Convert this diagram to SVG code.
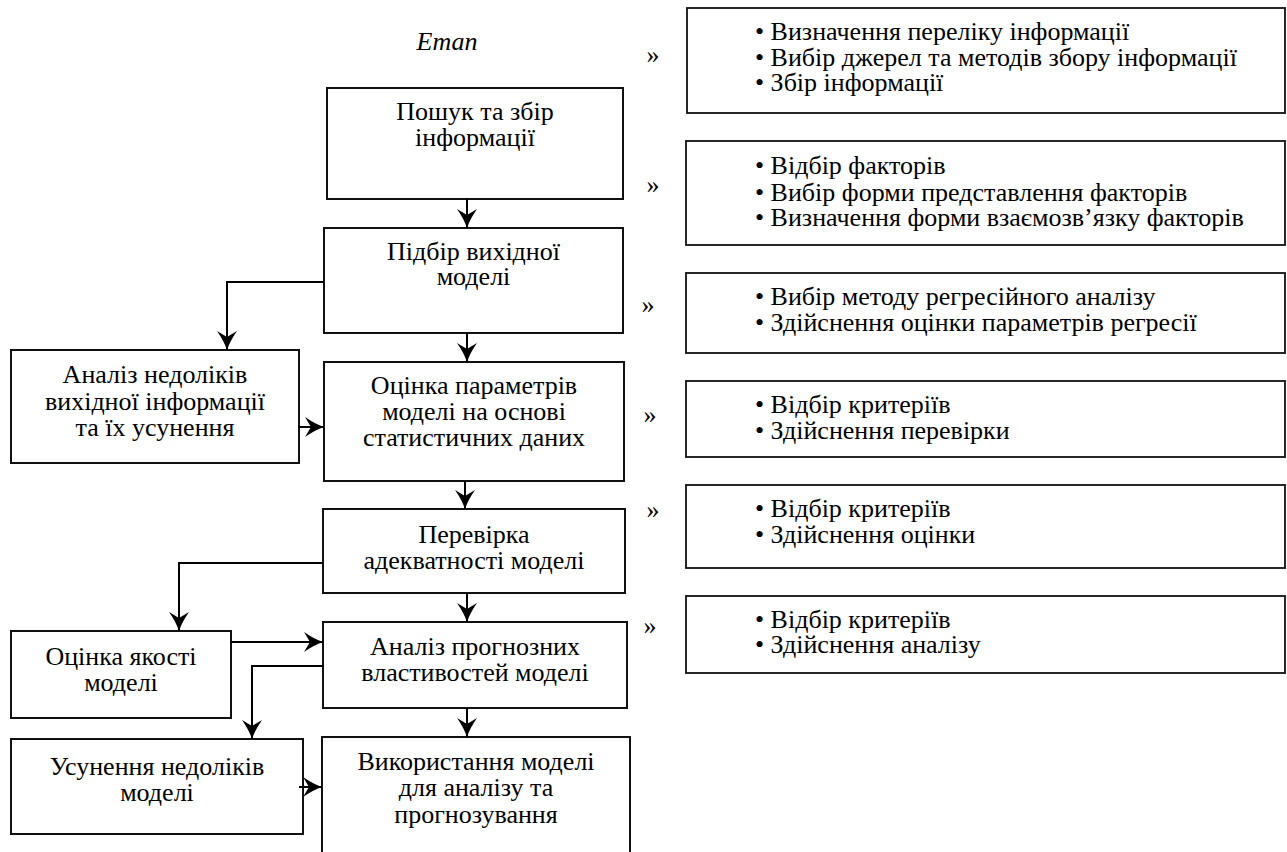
<svg xmlns="http://www.w3.org/2000/svg" width="1287" height="852" viewBox="0 0 1287 852">
<defs>
<style>
text{font-family:"Liberation Serif","DejaVu Serif",serif;font-size:26px;fill:#000}
.c{text-anchor:middle}
.box{fill:#fff;stroke:#111;stroke-width:2}
.rbox{fill:#fff;stroke:#111;stroke-width:1.8}
.con{fill:none;stroke:#000;stroke-width:2}
.it{font-style:italic}
</style>
<marker id="ah" viewBox="-20 -11 21 22" markerWidth="21" markerHeight="22" refX="0" refY="0" orient="auto" markerUnits="userSpaceOnUse">
<path d="M0,0 Q-9,-3 -19,-10 L-13,0 L-19,10 Q-9,3 0,0 Z" fill="#000"/>
</marker>
</defs>
<rect width="1287" height="852" fill="#fff"/>

<text id="title" class="c it" x="447" y="50">Етап</text>

<g id="n1"><rect class="box" x="327" y="88" width="296" height="111"/>
<text class="c" x="475" y="120">Пошук та збір</text><text class="c" x="475" y="146">інформації</text></g>
<g id="n2"><rect class="box" x="324" y="228" width="299" height="105"/>
<text class="c" x="473.5" y="260">Підбір вихідної</text><text class="c" x="473.5" y="285">моделі</text></g>
<g id="n3"><rect class="box" x="324" y="362" width="300" height="119"/>
<text class="c" x="474" y="394">Оцінка параметрів</text><text class="c" x="474" y="420">моделі на основі</text><text class="c" x="474" y="446">статистичних даних</text></g>
<g id="n4"><rect class="box" x="323" y="509" width="302" height="84"/>
<text class="c" x="474" y="543">Перевірка</text><text class="c" x="474" y="569">адекватності моделі</text></g>
<g id="n5"><rect class="box" x="323" y="622" width="304" height="86"/>
<text class="c" x="475" y="655">Аналіз прогнозних</text><text class="c" x="475" y="681">властивостей моделі</text></g>
<g id="n6"><rect class="box" x="322" y="737" width="308" height="130"/>
<text class="c" x="476" y="770">Використання моделі</text><text class="c" x="476" y="796">для аналізу та</text><text class="c" x="476" y="823">прогнозування</text></g>

<g id="l1"><rect class="box" x="11" y="350" width="288" height="113"/>
<text class="c" x="155" y="383">Аналіз недоліків</text><text class="c" x="155" y="410">вихідної інформації</text><text class="c" x="155" y="436">та їх усунення</text></g>
<g id="l2"><rect class="box" x="11" y="631" width="220" height="87"/>
<text class="c" x="121" y="665">Оцінка якості</text><text class="c" x="121" y="691">моделі</text></g>
<g id="l3"><rect class="box" x="11" y="739" width="292" height="95"/>
<text class="c" x="157" y="775">Усунення недоліків</text><text class="c" x="157" y="801">моделі</text></g>

<g id="r1"><rect class="rbox" x="687" y="8" width="598" height="105"/>
<text x="755" y="40">• Визначення переліку інформації</text><text x="755" y="66">• Вибір джерел та методів збору інформації</text><text x="755" y="91">• Збір інформації</text></g>
<g id="r2"><rect class="rbox" x="686" y="141" width="599" height="104"/>
<text x="755" y="174">• Відбір факторів</text><text x="755" y="201">• Вибір форми представлення факторів</text><text x="755" y="226">• Визначення форми взаємозв’язку факторів</text></g>
<g id="r3"><rect class="rbox" x="686" y="273" width="599" height="80"/>
<text x="755" y="305">• Вибір методу регресійного аналізу</text><text x="755" y="331">• Здійснення оцінки параметрів регресії</text></g>
<g id="r4"><rect class="rbox" x="686" y="381" width="599" height="76"/>
<text x="755" y="413">• Відбір критеріїв</text><text x="755" y="439">• Здійснення перевірки</text></g>
<g id="r5"><rect class="rbox" x="686" y="485" width="599" height="83"/>
<text x="755" y="517">• Відбір критеріїв</text><text x="755" y="543">• Здійснення оцінки</text></g>
<g id="r6"><rect class="rbox" x="686" y="596" width="599" height="77"/>
<text x="755" y="628">• Відбір критеріїв</text><text x="755" y="653">• Здійснення аналізу</text></g>

<g id="marks">
<text class="c" x="653" y="63">»</text>
<text class="c" x="653" y="193">»</text>
<text class="c" x="648" y="313">»</text>
<text class="c" x="650" y="423">»</text>
<text class="c" x="653" y="518">»</text>
<text class="c" x="650" y="634">»</text>
</g>

<g id="connectors">
<path class="con" d="M467,199 V228" marker-end="url(#ah)"/>
<path class="con" d="M467,333 V362" marker-end="url(#ah)"/>
<path class="con" d="M465,481 V509" marker-end="url(#ah)"/>
<path class="con" d="M467,593 V622" marker-end="url(#ah)"/>
<path class="con" d="M467,708 V737" marker-end="url(#ah)"/>
<path class="con" d="M324,282 H227 V350" marker-end="url(#ah)"/>
<path class="con" d="M299,427 H324" marker-end="url(#ah)"/>
<path class="con" d="M323,563 H179 V631" marker-end="url(#ah)"/>
<path class="con" d="M231,642 H323" marker-end="url(#ah)"/>
<path class="con" d="M323,666 H252 V739" marker-end="url(#ah)"/>
<path class="con" d="M299,787 H322" marker-end="url(#ah)"/>
</g>
</svg>
